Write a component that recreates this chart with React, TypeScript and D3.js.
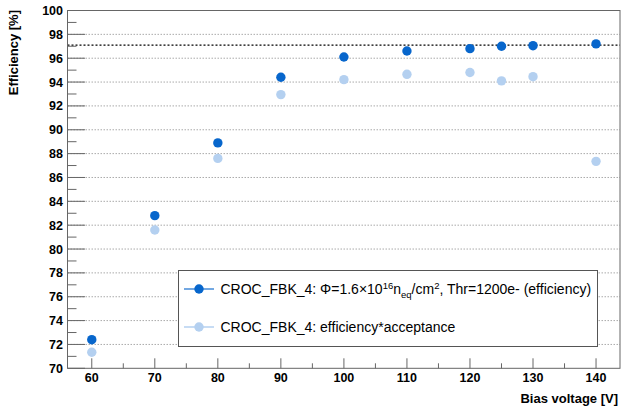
import React from "react";
import * as d3 from "d3";

const voltages = [60, 70, 80, 90, 100, 110, 120, 125, 130, 140];
const efficiency = [72.4, 82.8, 88.9, 94.4, 96.1, 96.6, 96.8, 97.0, 97.05, 97.2];
const effAcceptance = [71.35, 81.6, 87.6, 92.95, 94.2, 94.65, 94.8, 94.1, 94.45, 87.35];
const xTicks = [60, 70, 80, 90, 100, 110, 120, 130, 140];
const yTicks = [70, 72, 74, 76, 78, 80, 82, 84, 86, 88, 90, 92, 94, 96, 98, 100];
const referenceLevel = 97.1;

const W = 622, H = 408;
const L = 67.5, R = 620, T = 10.5, B = 368.3;
const DARK = "#0766cc";
const LIGHT = "#b4d0f0";
const FONT = "'Liberation Sans', Arial, Helvetica, sans-serif";

export default function App() {
  const x = d3.scaleLinear().domain([56.15, 143.8]).range([L, R]);
  const y = d3.scaleLinear().domain([70, 100]).range([B, T]);
  const minorX = d3.range(65, 145, 10);
  const minorY = d3.range(71, 100, 2);
  const axisCol = "#666";
  return (
    <svg width={W} height={H} style={{ position: "absolute", left: 0, top: 0, background: "#fff" }} fontFamily={FONT}>
      <rect x={0} y={0} width={W} height={H} fill="#fff" />
      {yTicks.filter(v => v > 70 && v < 100).map(v => (
        <line key={"g" + v} x1={L} x2={R} y1={y(v)} y2={y(v)} stroke="#aaa" strokeWidth={1} strokeDasharray="1.5,1.5" />
      ))}
      <line x1={L} x2={R} y1={y(referenceLevel)} y2={y(referenceLevel)} stroke="#000" strokeWidth={1.2} strokeDasharray="2,2" />
      <rect x={L} y={T} width={R - L} height={B - T} fill="none" stroke={axisCol} strokeWidth={1} />
      {yTicks.map(v => (
        <line key={"yt" + v} x1={L} x2={L + 17.5} y1={y(v)} y2={y(v)} stroke={axisCol} strokeWidth={1} />
      ))}
      {minorY.map(v => (
        <line key={"ym" + v} x1={L} x2={L + 9} y1={y(v)} y2={y(v)} stroke={axisCol} strokeWidth={1} />
      ))}
      {yTicks.map(v => (
        <text key={"yl" + v} x={L - 4.5} y={y(v)} dy="0.36em" textAnchor="end" fontSize={12.5} fontWeight="bold" fill="#000">{v}</text>
      ))}
      {xTicks.map(v => (
        <line key={"xt" + v} x1={x(v)} x2={x(v)} y1={B} y2={B - 10} stroke={axisCol} strokeWidth={1} />
      ))}
      {minorX.map(v => (
        <line key={"xm" + v} x1={x(v)} x2={x(v)} y1={B} y2={B - 5} stroke={axisCol} strokeWidth={1} />
      ))}
      {xTicks.map(v => (
        <text key={"xl" + v} x={x(v)} y={382} textAnchor="middle" fontSize={12.5} fontWeight="bold" fill="#000">{v}</text>
      ))}
      <text x={618} y={403} textAnchor="end" fontSize={13} fontWeight="bold" fill="#000">Bias voltage [V]</text>
      <text transform={`translate(17.5,10) rotate(-90)`} textAnchor="end" fontSize={13} fontWeight="bold" fill="#000">Efficiency [%]</text>
      {voltages.map((v, i) => (
        <circle key={"a" + v} cx={x(v)} cy={y(effAcceptance[i])} r={4.7} fill={LIGHT} />
      ))}
      {voltages.map((v, i) => (
        <circle key={"e" + v} cx={x(v)} cy={y(efficiency[i])} r={4.7} fill={DARK} />
      ))}
      <rect x={178.5} y={270.5} width={419} height={76} fill="#fff" stroke="#555" strokeWidth={1} />
      <line x1={184} x2={214} y1={289} y2={289} stroke={DARK} strokeWidth={1.5} opacity={0.75} />
      <circle cx={199} cy={289} r={4.7} fill={DARK} />
      <line x1={184} x2={214} y1={327} y2={327} stroke={LIGHT} strokeWidth={1.5} />
      <circle cx={199} cy={327} r={4.7} fill={LIGHT} />
      <text x={220.5} y={294} fontSize={14} fill="#000">
        CROC_FBK_4: Φ=1.6×10<tspan dy={-5.5} fontSize={9.5}>16</tspan><tspan dy={5.5}>n</tspan><tspan dy={3.5} fontSize={9.5}>eq</tspan><tspan dy={-3.5}>/cm</tspan><tspan dy={-5.5} fontSize={9.5}>2</tspan><tspan dy={5.5}>, Thr=1200e- (efficiency)</tspan>
      </text>
      <text x={220.5} y={332} fontSize={14} fill="#000">CROC_FBK_4: efficiency*acceptance</text>
    </svg>
  );
}
